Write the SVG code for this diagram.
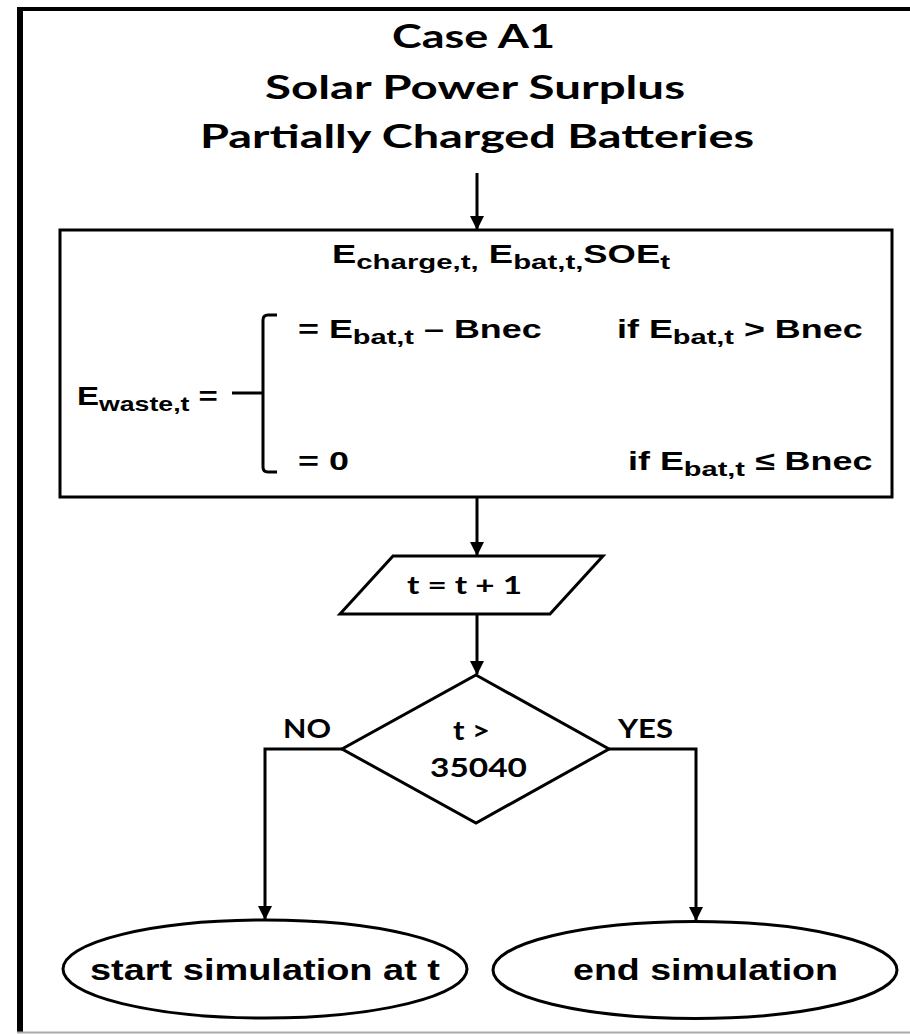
<svg xmlns="http://www.w3.org/2000/svg" width="910" height="1034" viewBox="0 0 910 1034">
<style>
.t{font-family:Lato,"Open Sans",sans-serif;font-weight:bold;fill:#000}
.a{font-family:"Liberation Sans",Arial,sans-serif;font-weight:bold;fill:#000}
.s{stroke:#000;stroke-width:3;fill:#fff}
.c{stroke:#000;stroke-width:3;fill:none}
</style>
<defs>
<marker id="ah" viewBox="0 0 14 14" refX="13" refY="7" markerWidth="14" markerHeight="14" markerUnits="userSpaceOnUse" orient="auto">
<path d="M0,0 L14,7 L0,14 Z" fill="#000"/>
</marker>
</defs>
<rect width="910" height="1034" fill="#fff"/>
<g id="frame">
<line x1="17" y1="9" x2="910" y2="9" stroke="#000" stroke-width="4"/>
<line x1="20" y1="7" x2="20" y2="1033" stroke="#000" stroke-width="6"/>
<line x1="17" y1="1032.5" x2="910" y2="1032.5" stroke="#aaa" stroke-width="2"/>
</g>
<g id="title">
<text class="t" x="473.5" y="48" font-size="32" text-anchor="middle" textLength="163" lengthAdjust="spacingAndGlyphs">Case A1</text>
<text class="t" x="475" y="99" font-size="32" text-anchor="middle" textLength="420" lengthAdjust="spacingAndGlyphs">Solar Power Surplus</text>
<text class="t" x="477" y="148" font-size="32" text-anchor="middle" textLength="554" lengthAdjust="spacingAndGlyphs">Partially Charged Batteries</text>
</g>
<g id="connectors">
<path class="c" d="M477,173 V229" marker-end="url(#ah)"/>
<path class="c" d="M477,497 V555" marker-end="url(#ah)"/>
<path class="c" d="M477,614 V674" marker-end="url(#ah)"/>
<path class="c" d="M342,749 H265 V919" marker-end="url(#ah)"/>
<path class="c" d="M609,749 H696 V920" marker-end="url(#ah)"/>
</g>
<g id="calc">
<rect class="s" x="60" y="230" width="832" height="267"/>
<text class="a" font-size="26" transform="translate(332,263) scale(1.4,1)">E<tspan font-size="21" dy="6">charge,t,</tspan><tspan dy="-6"> E</tspan><tspan font-size="21" dy="6">bat,t,</tspan><tspan dy="-6">SOE</tspan><tspan font-size="21" dy="6">t</tspan></text>
<text class="a" font-size="26" transform="translate(298,338) scale(1.38,1)">= E<tspan font-size="21" dy="6">bat,t</tspan><tspan dy="-6"> – Bnec</tspan></text>
<text class="a" font-size="26" transform="translate(617,338) scale(1.38,1)">if E<tspan font-size="21" dy="6">bat,t</tspan><tspan dy="-6"> &gt; Bnec</tspan></text>
<text class="a" font-size="26" transform="translate(77,405) scale(1.27,1)">E<tspan font-size="21" dy="6">waste,t</tspan><tspan dy="-6"> =</tspan></text>
<text class="a" font-size="26" transform="translate(298,470) scale(1.38,1)">= 0</text>
<text class="a" font-size="26" transform="translate(628,470) scale(1.38,1)">if E<tspan font-size="21" dy="6">bat,t</tspan><tspan dy="-6"> ≤ Bnec</tspan></text>
<path class="c" d="M277,315 H268 Q263,315 263,320 V467 Q263,472 268,472 H277 M232,393 H263"/>
</g>
<g id="increment">
<polygon class="s" points="393,556 603,556 550,614 340,614"/>
<text class="t" x="464.5" y="594" font-size="24.5" text-anchor="middle" textLength="115" lengthAdjust="spacingAndGlyphs">t = t + 1</text>
</g>
<g id="decision">
<polygon class="s" points="476,675 609,749 476,823 342,749"/>
<text class="t" x="471.5" y="740" font-size="27" text-anchor="middle" textLength="37" lengthAdjust="spacingAndGlyphs">t &gt;</text>
<text class="t" x="478.5" y="777" font-size="27" text-anchor="middle" textLength="97" lengthAdjust="spacingAndGlyphs">35040</text>
</g>
<g id="labels">
<text class="t" x="283" y="738" font-size="26" textLength="48" lengthAdjust="spacingAndGlyphs">NO</text>
<text class="t" x="618" y="738" font-size="26" textLength="55" lengthAdjust="spacingAndGlyphs">YES</text>
</g>
<g id="start">
<ellipse class="s" cx="265" cy="969" rx="202" ry="49" stroke-width="2.5"/>
<text class="a" x="265" y="980" font-size="29" text-anchor="middle" textLength="350" lengthAdjust="spacingAndGlyphs">start simulation at t</text>
</g>
<g id="end">
<ellipse class="s" cx="695" cy="970" rx="202" ry="48.5" stroke-width="2.5"/>
<text class="a" x="705.5" y="980" font-size="29" text-anchor="middle" textLength="265" lengthAdjust="spacingAndGlyphs">end simulation</text>
</g>
</svg>
